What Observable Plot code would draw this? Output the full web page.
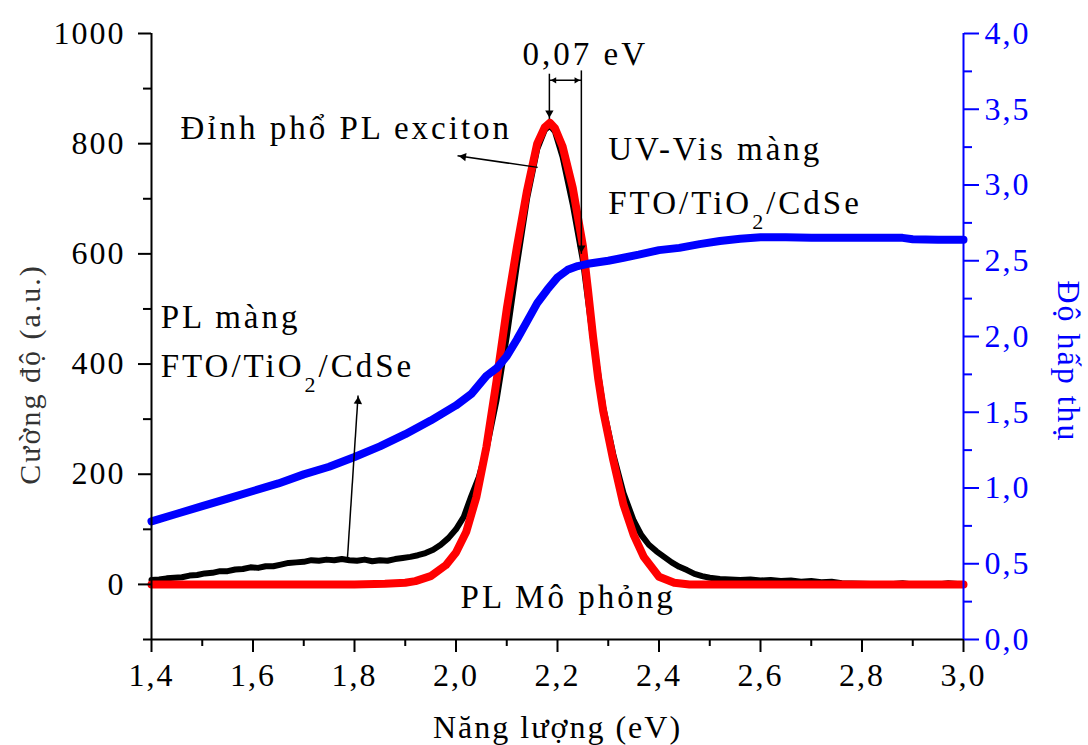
<!DOCTYPE html>
<html><head><meta charset="utf-8">
<script src="https://cdn.jsdelivr.net/npm/d3@7"></script>
<script src="https://cdn.jsdelivr.net/npm/@observablehq/plot@0.6"></script>
<style>
body{margin:0;background:#fff;}
#chart svg{font-family:"Liberation Serif","DejaVu Serif",serif;}
#chart svg text{letter-spacing:2px;}
#chart svg g.anno text{letter-spacing:3px;}
</style></head><body><div id="chart"></div>
<script>
// ---- Data ----
// Simulated PL (red), intensity in a.u.
const redEnergy = [1.40,1.60,1.80,1.86,1.90,1.92,1.95,1.98,2.00,2.02,2.04,2.06,2.08,2.10,2.12,2.14,2.16,2.175,2.185,2.195,2.21,2.23,2.25,2.26,2.27,2.28,2.29,2.31,2.33,2.35,2.37,2.40,2.43,2.46,2.60,2.80,3.00];
const redIntensity = [0,0,0,1,3,6,15,35,58,95,158,250,370,500,612,715,800,830,838,828,795,720,615,535,450,375,315,225,145,90,50,14,3,0,0,0,0];

// Measured PL (black), intensity in a.u.
const blackEnergy = [1.40,1.415,1.43,1.445,1.46,1.475,1.49,1.505,1.52,1.535,1.55,1.565,1.58,1.595,1.61,1.625,1.64,1.655,1.67,1.685,1.70,1.715,1.73,1.745,1.76,1.775,1.79,1.805,1.82,1.835,1.85,1.865,1.88,1.895,1.91,1.925,1.94,1.955,1.97,1.985,2.00,2.015,2.03,2.045,2.06,2.08,2.10,2.12,2.14,2.16,2.175,2.185,2.195,2.21,2.23,2.25,2.27,2.29,2.31,2.33,2.35,2.365,2.38,2.395,2.41,2.425,2.44,2.455,2.47,2.485,2.50,2.52,2.54,2.56,2.58,2.60,2.62,2.64,2.66,2.68,2.70,2.72,2.74,2.76,2.80,2.85,2.88,2.90,2.95,2.97,3.00];
const blackIntensity = [8,9,11,12,13,16,17,20,21,24,24,27,28,31,30,33,33,36,39,40,41,44,43,45,44,46,44,43,45,42,44,43,46,48,50,53,57,63,72,84,100,122,160,195,245,335,450,580,700,790,825,833,822,776,690,588,445,322,236,166,116,90,72,60,50,40,32,26,19,15,12,10,9,8,9,7,8,6,7,5,6,4,5,2,1,0,2,0,0,2,0];

// UV-Vis absorbance (blue), right axis
const uvEnergy = [1.40,1.45,1.50,1.55,1.60,1.65,1.70,1.75,1.80,1.85,1.90,1.95,2.00,2.03,2.06,2.08,2.10,2.12,2.14,2.16,2.18,2.20,2.22,2.24,2.26,2.28,2.30,2.33,2.36,2.40,2.44,2.48,2.52,2.56,2.60,2.65,2.70,2.80,2.88,2.90,2.95,3.00];
const uvAbsorbance = [0.78,0.83,0.88,0.93,0.98,1.03,1.09,1.14,1.205,1.275,1.355,1.445,1.545,1.62,1.74,1.79,1.87,1.98,2.10,2.22,2.31,2.39,2.44,2.465,2.48,2.49,2.50,2.52,2.54,2.57,2.585,2.61,2.63,2.645,2.655,2.655,2.652,2.652,2.651,2.642,2.638,2.638];

// Axis ticks
const xTicks = [1.4,1.6,1.8,2.0,2.2,2.4,2.6,2.8,3.0];
const xMinorTicks = [1.5,1.7,1.9,2.1,2.3,2.5,2.7,2.9];
const yTicks = [0,200,400,600,800,1000];
const yMinorTicks = [-100,100,300,500,700,900];
const absTicks = [0,0.5,1,1.5,2,2.5,3,3.5,4];
const absMinorTicks = [0.25,0.75,1.25,1.75,2.25,2.75,3.25,3.75];

// Annotations (data coordinates)
const labels = [
  {text:"0,07 eV", x:2.131, y:942},
  {text:"Đỉnh phổ PL exciton", x:1.457, y:809},
  {text:"UV-Vis màng", x:2.300, y:770},
  {text:"FTO/TiO_2/CdSe", x:2.300, y:673},
  {text:"PL màng", x:1.418, y:466},
  {text:"FTO/TiO_2/CdSe", x:1.418, y:376},
  {text:"PL Mô phỏng", x:2.009, y:-42}
];
const pointerLines = [
  {x1:2.184, y1:927, x2:2.184, y2:845},
  {x1:2.247, y1:933, x2:2.247, y2:600},
  {x1:2.184, y1:915, x2:2.247, y2:915},
  {x1:2.161, y1:757, x2:2.003, y2:778},
  {x1:1.786, y1:46, x2:1.807, y2:343}
];

// ---- Build ----
const absToY = a => -100 + a * 275;   // right axis (0..4) onto left scale (-100..1000)
const fmt1 = d => d3.format(".1f")(d).replace(".", ",");

const red = redEnergy.map((e,i) => ({e, v: redIntensity[i]}));
const black = blackEnergy.map((e,i) => ({e, v: blackIntensity[i]}));
const uv = uvEnergy.map((e,i) => ({e, v: absToY(uvAbsorbance[i])}));

const head = (d, rotate, dx, dy, r) => Plot.dot([d], {x: "x", y: "y", symbol: "triangle2", r, fill: "#000", stroke: "none", rotate, dx, dy});

const plot = Plot.plot({
  width: 1088, height: 745,
  marginLeft: 151, marginRight: 125, marginTop: 33, marginBottom: 106,
  x: {domain: [1.4, 3.0]},
  y: {domain: [-100, 1000]},
  style: {fontFamily: "'Liberation Serif', serif", fontSize: "32px", color: "#000", background: "#fff"},
  marks: [
    Plot.line(black, {x: "e", y: "v", stroke: "#000", strokeWidth: 6}),
    Plot.line(red, {x: "e", y: "v", stroke: "#ff0000", strokeWidth: 8}),
    Plot.line(uv, {x: "e", y: "v", stroke: "#0000ff", strokeWidth: 8}),
    // frame lines
    Plot.ruleX([1.4], {stroke: "#000", strokeWidth: 2}),
    Plot.ruleY([-100], {stroke: "#000", strokeWidth: 2}),
    Plot.ruleX([3.0], {stroke: "#0000ff", strokeWidth: 2}),
    // axes
    Plot.axisX({ticks: xTicks, tickSize: 13, tickPadding: 11, tickFormat: fmt1, strokeWidth: 2, fontSize: 32, label: null}),
    Plot.axisX({ticks: xMinorTicks, tickSize: 7, tickFormat: () => "", strokeWidth: 2, label: null}),
    Plot.axisY({anchor: "left", ticks: yTicks, tickSize: 13, tickPadding: 13, tickFormat: d => String(d), strokeWidth: 2, fontSize: 32, label: null}),
    Plot.axisY({anchor: "left", ticks: yMinorTicks, tickSize: 8, tickFormat: () => "", strokeWidth: 2, label: null}),
    Plot.axisY({anchor: "right", ticks: absTicks.map(absToY), tickSize: 15, tickPadding: 6, tickFormat: d => fmt1((d + 100) / 275), strokeWidth: 2, color: "#0000ff", fontSize: 32, label: null}),
    Plot.axisY({anchor: "right", ticks: absMinorTicks.map(absToY), tickSize: 8, tickFormat: () => "", strokeWidth: 2, color: "#0000ff", label: null}),
    // axis titles
    Plot.text(["Năng lượng (eV)"], {text: d => d, frameAnchor: "bottom", dy: 98, lineAnchor: "bottom", textAnchor: "middle", fontSize: 32, fill: "#000"}),
    Plot.text(["Cường độ (a.u.)"], {text: d => d, frameAnchor: "left", dx: -112, dy: 38, rotate: -90, lineAnchor: "bottom", textAnchor: "middle", fontSize: 30, fill: "#333"}),
    Plot.text(["Độ hấp thụ"], {text: d => d, frameAnchor: "right", dx: 94, dy: 25, rotate: 90, lineAnchor: "bottom", textAnchor: "middle", fontSize: 32, fill: "#0000ff"}),
    // annotations
    Plot.link(pointerLines, {x1: "x1", y1: "y1", x2: "x2", y2: "y2", stroke: "#000", strokeWidth: 1.5}),
    head({x: pointerLines[0].x2, y: pointerLines[0].y2}, 180, 0, -6, 4),
    head({x: pointerLines[1].x2, y: pointerLines[1].y2}, 180, 0, -6, 4),
    head({x: pointerLines[2].x1, y: pointerLines[2].y1}, -90, 5, 0, 3),
    head({x: pointerLines[2].x2, y: pointerLines[2].y2}, 90, -5, 0, 3),
    head({x: pointerLines[3].x2, y: pointerLines[3].y2}, -81.5, 6, 1, 4),
    head({x: pointerLines[4].x2, y: pointerLines[4].y2}, 3.7, 0, 6, 4),
    Plot.text(labels, {x: "x", y: "y", text: "text", textAnchor: "start", lineAnchor: "bottom", fontSize: 33, fill: "#000", className: "anno"})
  ]
});

// subscripts for TiO_2
d3.select(plot).selectAll("text").each(function() {
  const t = this.textContent;
  if (t.includes("TiO_2")) {
    const [a, b] = t.split("_2");
    const sel = d3.select(this);
    sel.text(null);
    sel.append("tspan").text(a);
    sel.append("tspan").attr("dy", 15).attr("font-size", 22).text("2");
    sel.append("tspan").attr("dy", -15).text(b);
  }
  if (this.closest("g[aria-label='text']") && this.closest("g").classList.contains("anno")) {}
});
// mark annotation text group for letter spacing
d3.select(plot).selectAll("text").filter(function(){ return /exciton|màng|0,07|Mô|FTO/.test(this.textContent); })
  .style("letter-spacing", "3px");
document.getElementById("chart").appendChild(plot);
</script></body></html>
